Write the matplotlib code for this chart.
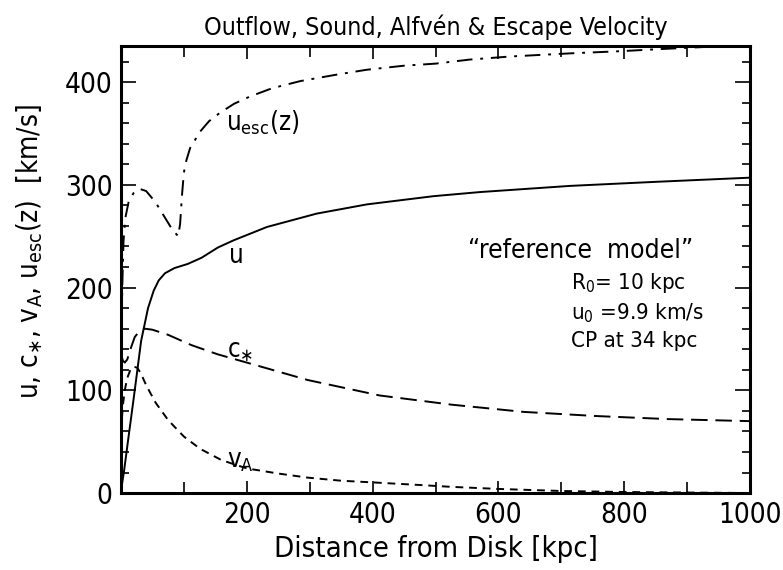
import numpy as np
import matplotlib
matplotlib.use("Agg")
import matplotlib.pyplot as plt
from matplotlib.ticker import MultipleLocator

# DATA
z_esc = [0, 1, 2, 4, 7, 12, 20, 30, 40, 55, 70, 82, 88, 91, 94, 97, 100, 104, 110,
         126, 140, 157, 180, 205, 240, 285, 340, 390, 450, 500, 555, 620, 714, 790,
         852, 920, 1000]
u_esc = [70, 140, 200, 245, 268, 283, 292, 296, 294, 283, 268, 256, 252, 250, 262,
         290, 312, 324, 336, 352, 362, 370, 379, 386, 394, 401, 407, 412, 416, 418,
         422, 425, 428, 430, 432, 434, 436]

z_u = [0, 5, 11, 18, 24, 32, 43, 52, 60, 70, 85, 106, 128, 154, 179, 232, 311, 391,
       497, 571, 714, 852, 1000]
u = [2, 22, 50, 82, 110, 148, 180, 197, 207, 214, 219, 223, 229, 239, 246, 259, 272,
     281, 289, 293, 299, 303, 307]

z_cs = [0, 3, 6, 10, 15, 22, 30, 38, 50, 75, 112, 154, 200, 297, 411, 526, 640, 754,
        869, 1000]
c_star = [135, 129, 127, 130, 140, 152, 158, 160, 159, 154, 144, 135, 127, 110, 95,
          86, 79, 75, 72, 70]

z_va = [0, 3, 6, 10, 15, 20, 26, 32, 40, 55, 75, 100, 126, 160, 200, 250, 297, 350,
        411, 470, 526, 600, 700, 800, 1000]
v_A = [60, 85, 100, 112, 120, 123, 122, 116, 105, 88, 71, 55, 43, 32, 24, 19, 15, 12,
       10, 8, 6, 4, 2, 1, 0]

x_ticks = [200, 400, 600, 800, 1000]
y_ticks = [0, 100, 200, 300, 400]

plt.rcParams['font.family'] = ['DejaVu Sans']
plt.rcParams['font.stretch'] = 'condensed'

fig = plt.figure(figsize=(7.83, 5.70), dpi=100)
ax = fig.add_axes([0.1545, 0.135, 0.8035, 0.784])

lw = 1.4
ax.plot(z_esc, u_esc, color='black', lw=lw, linestyle=(0, (8, 4, 1.5, 4)))
ax.plot(z_u, u, color='black', lw=lw, linestyle='-')
ax.plot(z_cs, c_star, color='black', lw=lw, linestyle=(0, (8.5, 4)))
ax.plot(z_va, v_A, color='black', lw=lw, linestyle=(0, (4, 3)))

ax.set_xlim(0, 1000)
ax.set_ylim(0, 435)
ax.set_xticks(x_ticks)
ax.set_yticks(y_ticks)
ax.xaxis.set_minor_locator(MultipleLocator(100))
ax.yaxis.set_minor_locator(MultipleLocator(20))
ax.tick_params(which='both', direction='in', top=True, right=True, width=1.2,
               labelsize=20, pad=6)
ax.tick_params(axis='x', which='major', length=9)
ax.tick_params(axis='x', which='minor', length=8)
ax.tick_params(axis='y', which='major', length=11)
ax.tick_params(axis='y', which='minor', length=6)
for s in ax.spines.values():
    s.set_linewidth(2.2)

ax.set_title("Outflow, Sound, Alfvén & Escape Velocity", fontsize=18, pad=8)
ax.set_xlabel("Distance from Disk [kpc]", fontsize=21, labelpad=4)
ax.set_ylabel(r"u, c$_{\ast}$, v$_{\rm A}$, u$_{\rm esc}$(z)  [km/s]", fontsize=20)
ax.yaxis.set_label_coords(-0.12, 0.54)

# curve labels
ax.text(226, 360, r"u$_{\rm esc}$(z)", fontsize=18.5, ha='center', va='center')
ax.text(184, 231, "u", fontsize=18.5, ha='center', va='center')
ax.text(190, 138, r"c$_{\ast}$", fontsize=18.5, ha='center', va='center')
ax.text(190, 31, r"v$_{\rm A}$", fontsize=18.5, ha='center', va='center')

# model annotation
ax.text(730, 236, "\u201creference  model\u201d", fontsize=19, ha='center', va='center')
ax.text(715, 204, r"R$_{\rm 0}$= 10 kpc", fontsize=16, ha='left', va='center')
ax.text(715, 175, r"u$_{\rm 0}$ =9.9 km/s", fontsize=16, ha='left', va='center')
ax.text(715, 148, "CP at 34 kpc", fontsize=16, ha='left', va='center')

fig.savefig("out.png", dpi=100)
